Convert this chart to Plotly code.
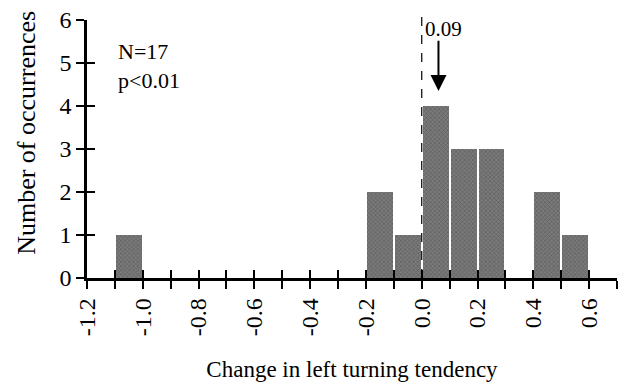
import plotly.graph_objects as go

bin_left = [-1.1, -0.2, -0.1, 0.0, 0.1, 0.2, 0.4, 0.5]
counts = [1, 2, 1, 4, 3, 3, 2, 1]
bin_width = 0.1
x_tick_vals = [-1.2, -1.0, -0.8, -0.6, -0.4, -0.2, 0.0, 0.2, 0.4, 0.6]
x_tick_text = ["-1.2", "-1.0", "-0.8", "-0.6", "-0.4", "-0.2", "0.0", "0.2", "0.4", "0.6"]
y_tick_vals = [0, 1, 2, 3, 4, 5, 6]
median_value = 0.09
arrow_x = 0.06

font = "Liberation Serif, Times New Roman, serif"
centers = [b + bin_width / 2 for b in bin_left]

fig = go.Figure()
fig.add_trace(go.Bar(
    x=centers, y=counts, width=bin_width * 0.93,
    marker=dict(color="#7a7a7a", line=dict(width=0),
                pattern=dict(shape="x", fgcolor="#3a3a3a", size=3, solidity=0.35)),
    showlegend=False, hoverinfo="skip",
))

fig.add_shape(type="line", x0=0, x1=0, y0=0, y1=1.03, xref="x", yref="paper",
              line=dict(color="black", width=1.2, dash="dash"))

fig.add_annotation(x=arrow_x, y=4.35, ax=arrow_x, ay=5.55, xref="x", yref="y",
                   axref="x", ayref="y", showarrow=True, arrowhead=2, arrowsize=1.6,
                   arrowwidth=2, arrowcolor="black", text="")
fig.add_annotation(x=0.005, y=1.02, xref="x", yref="paper", text=str(median_value),
                   showarrow=False, xanchor="left", yanchor="top",
                   font=dict(family=font, size=21, color="black"))
fig.add_annotation(x=0.055, y=0.935, xref="paper", yref="paper", text="N=17<br>p<0.01",
                   showarrow=False, xanchor="left", yanchor="top", align="left",
                   font=dict(family=font, size=22, color="black"))
fig.add_annotation(x=-0.113, y=0.563, xref="paper", yref="paper",
                   text="Number of occurrences", textangle=-90, showarrow=False,
                   xanchor="center", yanchor="middle",
                   font=dict(family=font, size=26, color="black"))

fig.update_layout(
    width=624, height=386,
    margin=dict(l=87, r=7, t=17, b=108),
    paper_bgcolor="white", plot_bgcolor="white",
    font=dict(family=font, size=24, color="black"),
    bargap=0,
    xaxis=dict(range=[-1.2, 0.7], tickvals=x_tick_vals, ticktext=x_tick_text,
               tickangle=-90, ticks="outside", ticklen=8, tickwidth=2, tickcolor="black",
               minor=dict(dtick=0.1, tick0=0, ticks="outside", ticklen=8, tickwidth=2, tickcolor="black"),
               showline=True, linecolor="black", linewidth=2.5, showgrid=False, zeroline=False,
               title=dict(text="Change in left turning tendency", standoff=26,
                          font=dict(family=font, size=23)),
               tickfont=dict(family=font, size=24)),
    xaxis2=dict(range=[-1.2, 0.7], overlaying="x", dtick=0.1, tick0=0,
                ticks="inside", ticklen=8, tickwidth=2, tickcolor="black",
                showticklabels=False, showgrid=False, zeroline=False, side="bottom"),
    yaxis=dict(range=[0, 6], tickvals=y_tick_vals, ticks="outside", ticklen=8, tickwidth=2,
               tickcolor="black", showline=True, linecolor="black", linewidth=2.5,
               showgrid=False, zeroline=False,
               tickfont=dict(family=font, size=24)),
    yaxis2=dict(range=[0, 6], overlaying="y", tickvals=y_tick_vals, ticks="inside",
                ticklen=8, tickwidth=2, tickcolor="black", showticklabels=False,
                showgrid=False, zeroline=False, side="left"),
)
fig.add_trace(go.Scatter(x=[None], y=[None], xaxis="x2", yaxis="y2", showlegend=False,
                         hoverinfo="skip"))

fig.write_html("out.html")
